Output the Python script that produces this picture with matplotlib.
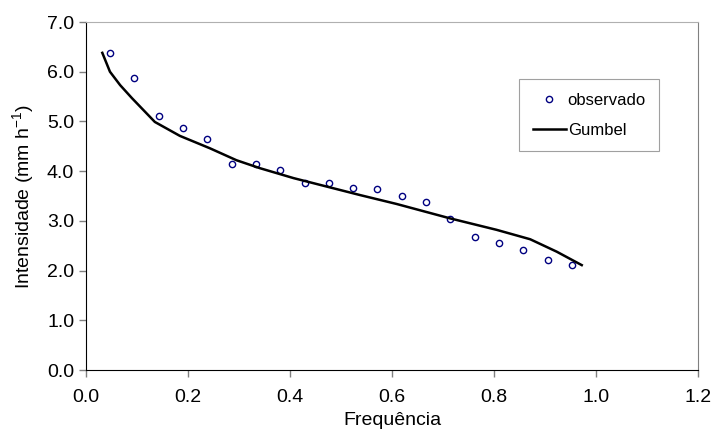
import matplotlib.pyplot as plt

plt.rcParams['font.family'] = ['Liberation Sans', 'DejaVu Sans']
plt.rcParams['mathtext.fontset'] = 'custom'
plt.rcParams['mathtext.rm'] = 'Liberation Sans'
plt.rcParams['mathtext.it'] = 'Liberation Sans'

# dados observados
freq_obs = [0.048, 0.095, 0.143, 0.190, 0.238, 0.286, 0.333, 0.381, 0.429, 0.476,
            0.524, 0.571, 0.619, 0.667, 0.714, 0.762, 0.810, 0.857, 0.905, 0.952]
int_obs = [6.38, 5.87, 5.11, 4.86, 4.65, 4.15, 4.15, 4.03, 3.77, 3.76,
           3.66, 3.65, 3.50, 3.37, 3.04, 2.68, 2.56, 2.41, 2.22, 2.12]

# curva de Gumbel
freq_gum = [0.032, 0.047, 0.067, 0.090, 0.135, 0.184, 0.243, 0.295, 0.341, 0.407,
            0.472, 0.537, 0.609, 0.714, 0.805, 0.871, 0.923, 0.972]
int_gum = [6.38, 6.00, 5.73, 5.47, 4.99, 4.71, 4.46, 4.22, 4.06, 3.86,
           3.69, 3.52, 3.34, 3.05, 2.82, 2.63, 2.38, 2.11]

fig = plt.figure(figsize=(7.13, 4.3), dpi=100)
ax = fig.add_axes([0.1206, 0.1395, 0.8584, 0.8093])

ax.plot(freq_obs, int_obs, 'o', color='#000080', markerfacecolor='none',
        markersize=4.5, markeredgewidth=1.0, label='observado')
ax.plot(freq_gum, int_gum, '-', color='black', linewidth=1.8, label='Gumbel')

ax.set_xlim(0, 1.2)
ax.set_ylim(0, 7)
ax.set_xticks([0.0, 0.2, 0.4, 0.6, 0.8, 1.0, 1.2])
ax.set_yticks([0, 1, 2, 3, 4, 5, 6, 7])
ax.xaxis.set_major_formatter(plt.FormatStrFormatter('%.1f'))
ax.yaxis.set_major_formatter(plt.FormatStrFormatter('%.1f'))
ax.tick_params(axis='both', labelsize=14, color='gray', length=5, width=1)
ax.tick_params(axis='x', pad=9)

ax.spines['left'].set_color('black')
ax.spines['bottom'].set_color('black')
ax.spines['top'].set_color('#b0b0b0')
ax.spines['right'].set_color('gray')

ax.set_xlabel('Frequência', fontsize=14, labelpad=4)
ax.set_ylabel('Intensidade (mm h$^{-1}$)', fontsize=14, labelpad=8)

leg = ax.legend(loc='upper left', bbox_to_anchor=(0.708, 0.835), fontsize=12,
                frameon=True, fancybox=False, framealpha=1, edgecolor='#a0a0a0',
                handlelength=2.0, borderpad=0.8, labelspacing=0.9, handletextpad=0.1,
                borderaxespad=0)
leg.get_frame().set_linewidth(0.8)

fig.savefig('out.png', dpi=100)
